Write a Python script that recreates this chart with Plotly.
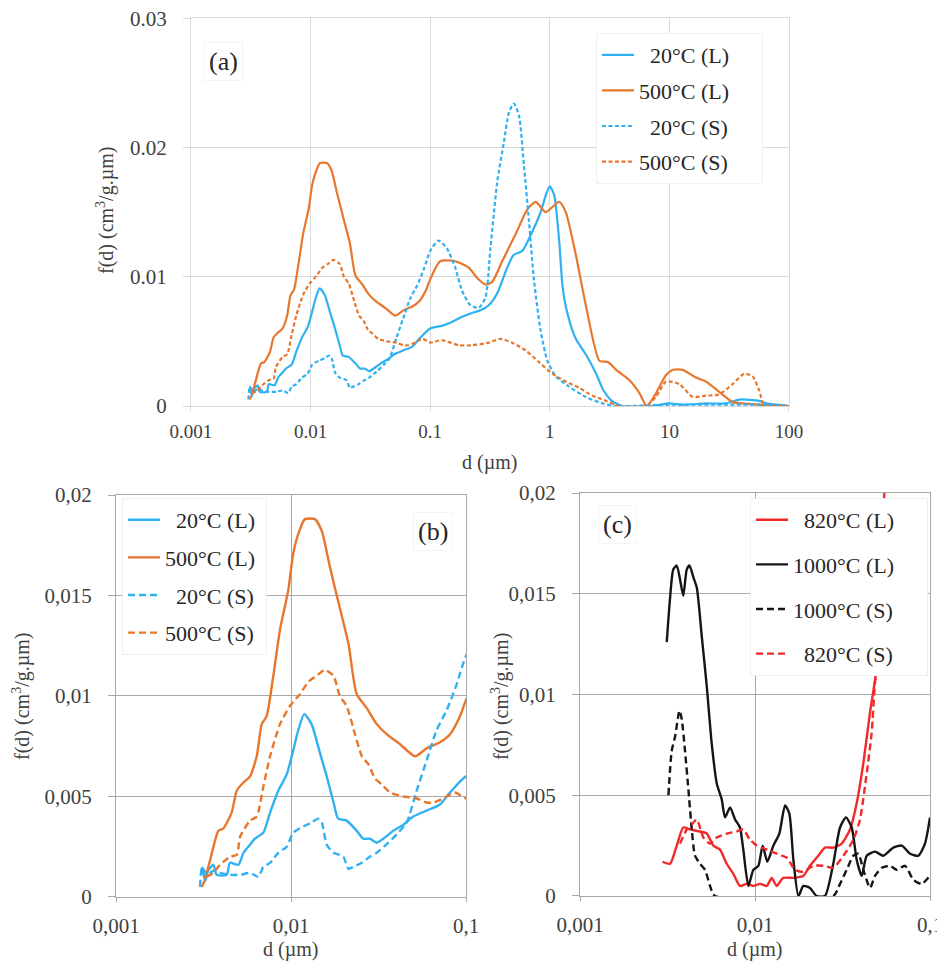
import plotly.graph_objects as go

# ---------------- (a) and (b): 20 °C / 500 °C, (L) and (S) ----------------
d_20L = [0.0031, 0.00323, 0.00335, 0.0036, 0.00376, 0.00429, 0.00448, 0.005, 0.00535, 0.00583,
         0.00622, 0.00695, 0.00759, 0.00847, 0.00945, 0.0103, 0.011, 0.0119, 0.0131, 0.0147,
         0.016, 0.0175, 0.0186, 0.0208, 0.0237, 0.0259, 0.0282, 0.0309, 0.0337, 0.0385,
         0.0439, 0.05, 0.0596, 0.071, 0.081, 0.1,
         0.125, 0.152, 0.185, 0.224, 0.263, 0.309, 0.363, 0.44, 0.5, 0.589,
         0.715, 0.839, 0.925, 1.0, 1.09, 1.2, 1.28, 1.41, 1.65, 2.0,
         2.44, 2.78, 3.3, 4.08, 7.0, 10, 13, 20, 29.7, 38.4, 56.4, 65, 100]
f_20L = [0.0015, 0.0008, 0.0013, 0.0016, 0.0011, 0.0011, 0.0017, 0.0016, 0.0022, 0.0026,
         0.0029, 0.0032, 0.0042, 0.0053, 0.0061, 0.0073, 0.0083, 0.0091, 0.0086, 0.0071,
         0.006, 0.0047, 0.0039, 0.0038, 0.0033, 0.0029, 0.0029, 0.0027, 0.0029, 0.0033,
         0.0036, 0.004, 0.0043, 0.0046, 0.0052, 0.006,
         0.0062, 0.0065, 0.0069, 0.0072, 0.0074, 0.0078, 0.0087, 0.0107, 0.0117, 0.012,
         0.0135, 0.015, 0.0163, 0.017, 0.0163, 0.0127, 0.0092, 0.0071, 0.0052, 0.004,
         0.0025, 0.0013, 0.0004, 0, 0, 0.0002, 0.0001, 0.0002, 0.0002, 0.0005, 0.0004, 0.0002, 0]

d_500L = [0.00323, 0.00344, 0.00385, 0.0041, 0.00458, 0.0049, 0.00535, 0.00583, 0.00637, 0.0068,
          0.00726, 0.00792, 0.00865, 0.00966, 0.0103, 0.01125, 0.012, 0.0137, 0.015, 0.0167,
          0.0191, 0.0213, 0.0237, 0.0271, 0.0309, 0.0352, 0.042, 0.0512, 0.0596, 0.071,
          0.0811, 0.0925, 0.1,
          0.121, 0.162, 0.21, 0.247, 0.29, 0.33, 0.4, 0.518, 0.648, 0.762,
          0.925, 1.197, 1.36, 1.65, 2.0, 2.6, 3.06, 3.59, 4.64, 5.62,
          6.46, 7.74, 9.38, 10.7, 12.9, 16.7, 20.2, 26.1, 33.8, 49.6, 64, 100]
f_500L = [0.0009, 0.0018, 0.0033, 0.0034, 0.0042, 0.0053, 0.0057, 0.006, 0.007, 0.0086,
          0.009, 0.011, 0.0133, 0.0153, 0.0171, 0.0183, 0.0188, 0.0188, 0.0182, 0.0164,
          0.0143, 0.0126, 0.0101, 0.0094, 0.0086, 0.0081, 0.0076, 0.007, 0.0074, 0.0077,
          0.0081, 0.009, 0.0098,
          0.0112, 0.0112, 0.0107, 0.0099, 0.0094, 0.0096, 0.0112, 0.0133, 0.0152, 0.0158,
          0.015, 0.0158, 0.015, 0.0117, 0.0078, 0.0035, 0.0034, 0.0028, 0.002, 0.001,
          0, 0.001, 0.0024, 0.0028, 0.0028, 0.0022, 0.0019, 0.0011, 0.0003, 0.00015, 0.00005, 0]

d_20S = [0.00302, 0.0031, 0.0033, 0.0036, 0.00393, 0.00448, 0.00512, 0.00583, 0.0065, 0.00695,
         0.00759, 0.00847, 0.00945, 0.0103, 0.0117, 0.0131, 0.0143, 0.015, 0.016, 0.0175,
         0.0199, 0.0213, 0.0227, 0.0254, 0.0282, 0.0309, 0.036, 0.041, 0.0458, 0.0523,
         0.0596, 0.0679, 0.0776, 0.0886, 0.1,
         0.117, 0.138, 0.162, 0.185, 0.217, 0.255, 0.29, 0.319, 0.363, 0.413,
         0.455, 0.5, 0.552, 0.608, 0.67, 0.738, 0.839, 0.955, 1.12, 1.45,
         2.0, 2.77, 3.59, 10, 30, 60, 100]
f_20S = [0.0005, 0.0015, 0.0011, 0.0013, 0.0012, 0.0011, 0.0011, 0.0012, 0.001, 0.0015,
         0.0017, 0.0022, 0.0025, 0.0032, 0.0035, 0.0037, 0.0039, 0.0037, 0.0026, 0.0022,
         0.002, 0.0014, 0.0015, 0.0017, 0.002, 0.0022, 0.0027, 0.0032, 0.0037, 0.0053,
         0.0068, 0.0083, 0.0093, 0.0106, 0.012,
         0.0128, 0.0122, 0.0107, 0.0089, 0.0078, 0.0076, 0.0084, 0.0122, 0.0173, 0.0204,
         0.0227, 0.0234, 0.0225, 0.0186, 0.0143, 0.0097, 0.0058, 0.0035, 0.0023, 0.0015,
         0.0007, 0.0002, 0, 0.0001, 0.0001, 0.0001, 0]

d_500S = [0.00309, 0.0033, 0.0036, 0.00393, 0.00448, 0.0049, 0.00512, 0.00583, 0.00637, 0.00695,
          0.00759, 0.00865, 0.00986, 0.01125, 0.01256, 0.014, 0.0156, 0.0175, 0.019, 0.0208,
          0.0232, 0.0254, 0.0277, 0.0302, 0.033, 0.0368, 0.0439, 0.0523, 0.0596, 0.065,
          0.0741, 0.0865, 0.1,
          0.125, 0.173, 0.224, 0.309, 0.387, 0.485, 0.628, 0.813, 1.05, 1.36,
          1.76, 2.28, 2.96, 3.83, 6.4, 7.7, 9.4, 12.1, 15.7, 20.2,
          26.1, 33.8, 42.3, 49.6, 56.4, 62.1, 100]
f_500S = [0.0005, 0.001, 0.0012, 0.0016, 0.002, 0.0021, 0.003, 0.0038, 0.004, 0.0055,
          0.007, 0.0086, 0.0095, 0.0101, 0.0107, 0.011, 0.0113, 0.011, 0.01, 0.0095,
          0.0081, 0.007, 0.0066, 0.0059, 0.0056, 0.0052, 0.005, 0.0049, 0.0047, 0.0047,
          0.0049, 0.0052, 0.0049,
          0.0051, 0.0047, 0.0047, 0.0049, 0.0052, 0.0049, 0.0043, 0.0034, 0.0025, 0.0019,
          0.0014, 0.0008, 0.0004, 0, 0, 0.0007, 0.0019, 0.0017, 0.0007, 0.0008,
          0.0009, 0.0017, 0.0025, 0.0023, 0.0012, 0.00005, 0]

# ---------------- (c): 820 °C / 1000 °C ----------------
d_820L = [0.00296, 0.00327, 0.00357, 0.00389, 0.00425, 0.00485, 0.0053, 0.00578, 0.00631, 0.00689,
          0.00752, 0.0082, 0.00896, 0.00978, 0.0107, 0.01167, 0.01246, 0.0133, 0.0145, 0.0166,
          0.0189, 0.0206, 0.023, 0.0251, 0.028, 0.0313, 0.0349, 0.0381, 0.0416, 0.0454,
          0.0496, 0.0548, 0.0575]
f_820L = [0.0017, 0.0016, 0.0025, 0.0034, 0.0033, 0.0032, 0.0031, 0.0025, 0.0023, 0.0016,
          0.0011, 0.0005, 0.0006, 0.0005, 0.0006, 0.0005, 0.0009, 0.0005, 0.0009, 0.0009,
          0.001, 0.0015, 0.002, 0.0024, 0.0024, 0.0026, 0.0033, 0.0046, 0.0066, 0.0091,
          0.0114, 0.02, 0.024]

d_1000L = [0.00313, 0.00327, 0.00341, 0.00357, 0.00373, 0.00389, 0.00407, 0.00422, 0.00445, 0.00465,
           0.00496, 0.0053, 0.00565, 0.00604, 0.00645, 0.00674, 0.0072, 0.00769, 0.0082, 0.00857,
           0.00916, 0.00978, 0.01045, 0.01106, 0.01175, 0.01273, 0.01377, 0.01484, 0.0157, 0.01656,
           0.0177, 0.0189, 0.0206, 0.0225, 0.0251, 0.028, 0.0306, 0.0331, 0.0357, 0.0381,
           0.0407, 0.0435, 0.0485, 0.0541, 0.0617, 0.0689, 0.0769, 0.0858, 0.0936, 0.1]
f_1000L = [0.0126, 0.0148, 0.0162, 0.0164, 0.0157, 0.0149, 0.0162, 0.0164, 0.0158, 0.0153,
           0.0129, 0.0104, 0.0076, 0.0056, 0.0048, 0.0039, 0.0044, 0.0038, 0.0034, 0.0023,
           0.0005, 0.0013, 0.0015, 0.0025, 0.0017, 0.0025, 0.0031, 0.0045, 0.0041, 0.0018,
           0, 0.0005, 0.0004, 0, 0, 0.0016, 0.0034, 0.0039, 0.0034, 0.0018,
           0.001, 0.002, 0.0022, 0.002, 0.0024, 0.0025, 0.0021, 0.002, 0.0026, 0.0039]

d_1000S = [0.0032, 0.00334, 0.00349, 0.0037, 0.00381, 0.00398, 0.00416, 0.00435, 0.00454, 0.00485,
           0.00518, 0.00553, 0.0059, 0.028, 0.0306, 0.0334, 0.0365, 0.0389, 0.0416, 0.0454,
           0.0485, 0.053, 0.059, 0.0645, 0.072, 0.0804, 0.0896, 0.1]
f_1000S = [0.005, 0.0072, 0.0079, 0.0092, 0.0088, 0.0072, 0.0053, 0.0033, 0.002, 0.0016,
           0.0013, 0.0005, 0, 0, 0.0006, 0.0013, 0.002, 0.0021, 0.0013, 0.0004,
           0.001, 0.0014, 0.0015, 0.0013, 0.0015, 0.0008, 0.0006, 0.001]

d_820S = [0.00373, 0.00407, 0.0044, 0.00465, 0.00507, 0.00553, 0.00604, 0.00689, 0.00785, 0.00857,
          0.00935, 0.01023, 0.01167, 0.0133, 0.0152, 0.0169, 0.0189, 0.0215, 0.0246, 0.028,
          0.032, 0.0365, 0.0398, 0.0435, 0.0464, 0.0485, 0.0507, 0.054]
f_820S = [0.0026, 0.0033, 0.0036, 0.0038, 0.0029, 0.0026, 0.0029, 0.0031, 0.0032, 0.0033,
          0.0028, 0.0025, 0.0023, 0.0021, 0.0019, 0.0013, 0.0012, 0.0015, 0.0015, 0.0014,
          0.002, 0.0028, 0.0038, 0.0061, 0.0081, 0.0106, 0.0119, 0.016]

BLUE = '#2fb1f2'
ORANGE = '#e8772e'
RED = '#f02a2a'
BLACK = '#151515'
SERIF = 'Liberation Serif'
TXT = '#404040'
NB = '\u00a0\u00a0'   # pads the shorter labels so they line up on the right, as in Excel
TAIL_A = '\u00a0' * 5
TAIL_B = '\u00a0'
TAIL_C = '\u00a0' * 5

fig = go.Figure()


def add(x, y, name, color, dash, xa, ya, legend, width=2.2):
    fig.add_trace(go.Scatter(
        x=x, y=y, name=name, mode='lines', xaxis=xa, yaxis=ya,
        legend=legend, legendgroup=legend + name,
        line=dict(color=color, width=width, dash=dash, shape='spline', smoothing=0.6)))


# (a)
add(d_20L, f_20L, NB + '20°C (L)' + TAIL_A, BLUE, 'solid', 'x', 'y', 'legend')
add(d_500L, f_500L, '500°C (L)' + TAIL_A, ORANGE, 'solid', 'x', 'y', 'legend')
add(d_20S, f_20S, NB + '20°C (S)' + TAIL_A, BLUE, '4px,2.5px', 'x', 'y', 'legend')
add(d_500S, f_500S, '500°C (S)' + TAIL_A, ORANGE, '4px,2.5px', 'x', 'y', 'legend')
# (b)
add(d_20L, f_20L, NB + '20°C (L)' + TAIL_B, BLUE, 'solid', 'x2', 'y2', 'legend2', 2.4)
add(d_500L, f_500L, '500°C (L)' + TAIL_B, ORANGE, 'solid', 'x2', 'y2', 'legend2', 2.4)
add(d_20S, f_20S, NB + '20°C (S)' + TAIL_B, BLUE, '7px,4px', 'x2', 'y2', 'legend2', 2.4)
add(d_500S, f_500S, '500°C (S)' + TAIL_B, ORANGE, '7px,4px', 'x2', 'y2', 'legend2', 2.4)
# (c)
add(d_820L, f_820L, NB + '820°C (L)' + TAIL_C, RED, 'solid', 'x3', 'y3', 'legend3', 2.4)
add(d_1000L, f_1000L, '1000°C (L)' + TAIL_C, BLACK, 'solid', 'x3', 'y3', 'legend3', 2.4)
add(d_1000S, f_1000S, '1000°C (S)' + TAIL_C, BLACK, '7px,4px', 'x3', 'y3', 'legend3', 2.4)
add(d_820S, f_820S, NB + '820°C (S)' + TAIL_C, RED, '7px,4px', 'x3', 'y3', 'legend3', 2.4)


def xax(domain, anchor, rng, vals, text, grid, size, standoff):
    return dict(domain=domain, anchor=anchor, type='log', range=rng, automargin=False,
                tickvals=vals, ticktext=text, showgrid=True, gridcolor=grid, gridwidth=1.2,
                showline=True, mirror=True, linecolor=grid, linewidth=1.2, layer='below traces',
                ticks='outside', ticklen=4, tickcolor=grid, ticklabelstandoff=standoff,
                ticklabeloverflow='allow',
                zeroline=False, tickfont=dict(family=SERIF, size=size, color=TXT))


def yax(domain, anchor, rng, vals, text, grid):
    return dict(domain=domain, anchor=anchor, range=rng, automargin=False,
                tickvals=vals, ticktext=text, showgrid=True, gridcolor=grid, gridwidth=1.2,
                showline=True, mirror=True, linecolor=grid, linewidth=1.2, layer='below traces',
                ticks='outside', ticklen=7, tickcolor=grid, ticklabelstandoff=12,
                ticklabeloverflow='allow',
                zeroline=False, tickfont=dict(family=SERIF, size=21, color=TXT))


GRID_A = '#d9d9d9'
GRID_B = '#a8a8a8'


def leg(x, y, gap):
    return dict(x=x, y=y, xanchor='left', yanchor='top', bgcolor='white',
                bordercolor='#f0f0f0', borderwidth=1, tracegroupgap=gap, itemwidth=32,
                font=dict(family=SERIF, size=22, color='#262626'))


# the page body keeps its 8px margin, so the figure is 8px smaller than the window
fig.update_layout(
    width=937, height=957, autosize=False,
    margin=dict(l=0, r=0, t=0, b=0, autoexpand=False),
    paper_bgcolor='white', plot_bgcolor='white',
    showlegend=True,
    xaxis=xax([0.1953, 0.8335], 'y', [-3, 2], [0.001, 0.01, 0.1, 1, 10, 100],
              ['0.001', '0.01', '0.1', '1', '10', '100'], GRID_A, 19, 4),
    yaxis=yax([0.5841, 0.9893], 'x', [0, 0.03], [0, 0.01, 0.02, 0.03],
              ['0', '0.01', '0.02', '0.03'], GRID_A),
    xaxis2=xax([0.1153, 0.4888], 'y2', [-3, -1], [0.001, 0.01, 0.1],
               ['0,001', '0,01', '0,1'], GRID_B, 21, 6),
    yaxis2=yax([0.0711, 0.4911], 'x2', [0, 0.02], [0, 0.005, 0.01, 0.015, 0.02],
               ['0', '0,005', '0,01', '0,015', '0,02'], GRID_B),
    xaxis3=xax([0.6105, 0.9840], 'y3', [-3, -1], [0.001, 0.01, 0.1],
               ['0,001', '0,01', '0,1'], GRID_B, 21, 6),
    yaxis3=yax([0.0721, 0.4932], 'x3', [0, 0.02], [0, 0.005, 0.01, 0.015, 0.02],
               ['0', '0,005', '0,01', '0,015', '0,02'], GRID_B),
    legend=leg(0.6275, 0.9739, 4),
    legend2=leg(0.1217, 0.4880, 6),
    legend3=leg(0.7919, 0.4880, 13),
)

# panel letters
for txt, px, py in [('(a)', 0.2305, 0.9436), ('(b)', 0.4536, 0.4525), ('(c)', 0.6500, 0.4598)]:
    fig.add_annotation(text=txt, x=px, y=py, xref='paper', yref='paper', showarrow=False,
                       xanchor='center', yanchor='middle',
                       bgcolor='white', bordercolor='#f4f4f4', borderwidth=1, borderpad=4,
                       font=dict(family=SERIF, size=26, color='#262626'))

# axis titles
YT = 'f(d) (cm<sup>3</sup>/g.µm)'
for px, py in [(0.1035, 0.7889), (0.0149, 0.2811), (0.5251, 0.2800)]:
    fig.add_annotation(text=YT, x=px, y=py, xref='paper', yref='paper', showarrow=False,
                       xanchor='center', yanchor='middle', textangle=-90,
                       font=dict(family=SERIF, size=20, color=TXT))
for px, py in [(0.5144, 0.5256), (0.3020, 0.0157), (0.7972, 0.0157)]:
    fig.add_annotation(text='d (µm)', x=px, y=py, xref='paper', yref='paper', showarrow=False,
                       xanchor='center', yanchor='middle',
                       font=dict(family=SERIF, size=20, color=TXT))

fig.write_html("out.html")
